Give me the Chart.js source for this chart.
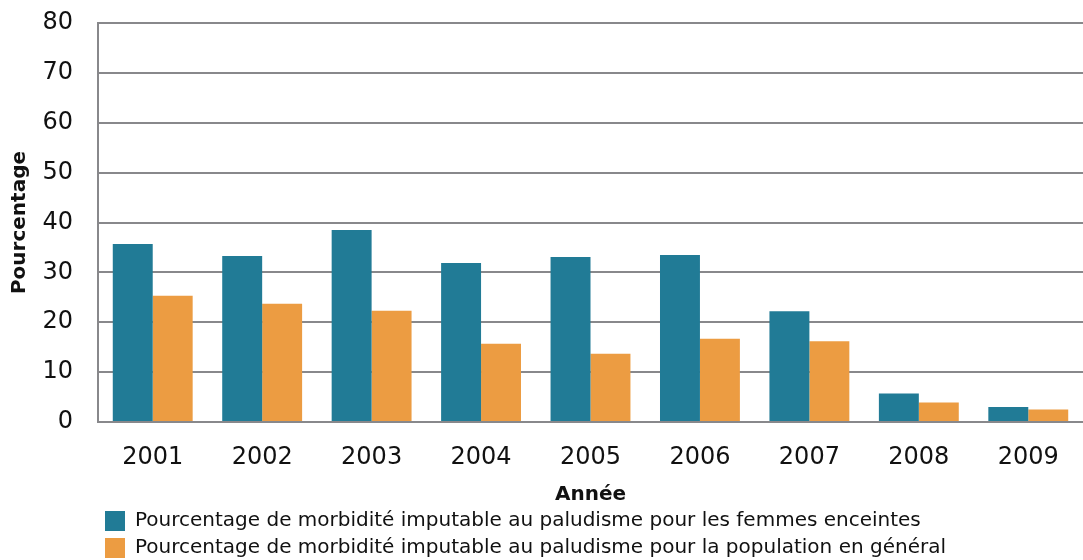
<!DOCTYPE html>
<html>
<head>
<meta charset="utf-8">
<script src="https://cdn.jsdelivr.net/npm/chart.js@4"></script>
<style>
  html, body { margin: 0; padding: 0; background: #ffffff; }
  #wrap { width: 1083px; height: 560px; position: relative; }
</style>
</head>
<body>
<div id="wrap"><canvas id="chart"></canvas></div>
<script>
const years = ['2001', '2002', '2003', '2004', '2005', '2006', '2007', '2008', '2009'];
const femmesEnceintes = [35.7, 33.3, 38.5, 31.9, 33.1, 33.5, 22.2, 5.7, 3.0];
const populationGenerale = [25.3, 23.7, 22.3, 15.7, 13.7, 16.7, 16.2, 3.9, 2.5];
const seriesLabels = [
    'Pourcentage de morbidité imputable au paludisme pour les femmes enceintes',
    'Pourcentage de morbidité imputable au paludisme pour la population en général'
];

const fontFamily = '"DejaVu Sans", Verdana, sans-serif';
const gridColor = '#88888b';

new Chart(document.getElementById('chart').getContext('2d'), {
    type: 'bar',
    data: {
        labels: years,
        datasets: [
            {
                label: seriesLabels[0],
                data: femmesEnceintes,
                backgroundColor: '#217b96',
                categoryPercentage: 0.73,
                barPercentage: 1.0
            },
            {
                label: seriesLabels[1],
                data: populationGenerale,
                backgroundColor: '#ec9c42',
                categoryPercentage: 0.73,
                barPercentage: 1.0
            }
        ]
    },
    options: {
        responsive: true,
        maintainAspectRatio: false,
        animation: false,
        layout: {
            padding: { top: 23, right: 0, left: 8, bottom: -8 }
        },
        plugins: {
            legend: {
                position: 'bottom',
                align: 'start',
                fullSize: false,
                labels: {
                    color: '#111111',
                    boxWidth: 20,
                    boxHeight: 20,
                    padding: 7,
                    font: { family: fontFamily, size: 20 }
                }
            },
            tooltip: { enabled: false }
        },
        scales: {
            x: {
                afterFit: (scale) => { scale.height = 82; },
                grid: { display: false, drawTicks: false },
                border: { display: true, color: gridColor, width: 2 },
                ticks: {
                    color: '#111111',
                    padding: 21,
                    font: { family: fontFamily, size: 24 }
                },
                title: {
                    display: true,
                    text: 'Année',
                    color: '#111111',
                    padding: { top: 0, bottom: -3 },
                    font: { family: fontFamily, size: 20, weight: 'bold' }
                }
            },
            y: {
                min: 0,
                max: 80,
                afterFit: (scale) => {
                    scale.width = 90;
                    scale.paddingTop = 0;
                    scale.paddingBottom = 0;
                },
                ticks: {
                    stepSize: 10,
                    color: '#111111',
                    padding: 25,
                    font: { family: fontFamily, size: 24 }
                },
                grid: { color: gridColor, lineWidth: 2, drawTicks: false },
                border: { display: true, color: gridColor, width: 2 },
                title: {
                    display: true,
                    text: 'Pourcentage',
                    color: '#111111',
                    padding: { top: 0, bottom: 0 },
                    font: { family: fontFamily, size: 20, weight: 'bold' }
                }
            }
        }
    }
});
</script>
</body>
</html>
